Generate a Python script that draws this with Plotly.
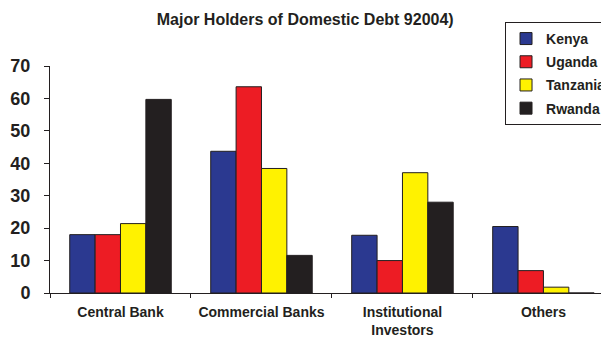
import plotly.graph_objects as go

categories = ["Central Bank", "Commercial Banks", "Institutional<br>Investors", "Others"]
kenya = [18, 43.7, 17.8, 20.5]
uganda = [18, 63.6, 10, 6.9]
tanzania = [21.4, 38.4, 37.1, 1.8]
rwanda = [59.7, 11.6, 28, 0]

series = [
    ("Kenya", kenya, "#2B3990"),
    ("Uganda", uganda, "#ED1C24"),
    ("Tanzania", tanzania, "#FFF200"),
    ("Rwanda", rwanda, "#231F20"),
]

FONT = "Liberation Sans, Arial, sans-serif"
INK = "#231F20"

fig = go.Figure()

for name, vals, color in series:
    fig.add_trace(go.Bar(
        x=categories,
        y=vals,
        name=f"<b>{name}</b>",
        legendgroup=name,
        marker=dict(color=color, line=dict(color=INK, width=1)),
    ))

# page body has an 8px margin, so the figure sits 8px right/down in the window
fig.update_layout(
    width=609,
    height=339,
    margin=dict(l=42, r=8, t=58, b=54, autoexpand=False),
    paper_bgcolor="white",
    plot_bgcolor="white",
    barmode="group",
    bargap=0.28,
    bargroupgap=0,
    font=dict(family=FONT, color=INK),
    title=dict(
        text="<b>Major Holders of Domestic Debt 92004)</b>",
        x=0.488, xref="container", xanchor="center",
        y=0.965, yref="container", yanchor="middle",
        font=dict(size=16, color=INK, family=FONT),
    ),
    legend=dict(
        x=0.814, y=1.194, xanchor="left", yanchor="top",
        bordercolor=INK, borderwidth=1,
        bgcolor="white",
        font=dict(size=14, color=INK, family=FONT),
        tracegroupgap=2,
    ),
    showlegend=True,
)

fig.update_xaxes(
    range=[-0.5, 3.465],
    showline=True, linecolor=INK, linewidth=1,
    ticks="outside", tickson="boundaries", ticklen=4, tickcolor=INK,
    tickfont=dict(size=14, color=INK, family=FONT),
    tickangle=0,
    ticklabelstandoff=6,
    automargin=False,
    showgrid=False,
    tickprefix="<b>", ticksuffix="</b>",
)

fig.update_yaxes(
    range=[0, 70],
    dtick=10,
    showline=True, linecolor=INK, linewidth=1,
    ticks="outside", ticklen=5, tickcolor=INK,
    tickfont=dict(size=18, color=INK, family=FONT),
    ticklabelstandoff=10,
    automargin=False,
    showgrid=False,
    zeroline=False,
    tickprefix="<b>", ticksuffix="</b>",
)

fig.write_html("out.html")
